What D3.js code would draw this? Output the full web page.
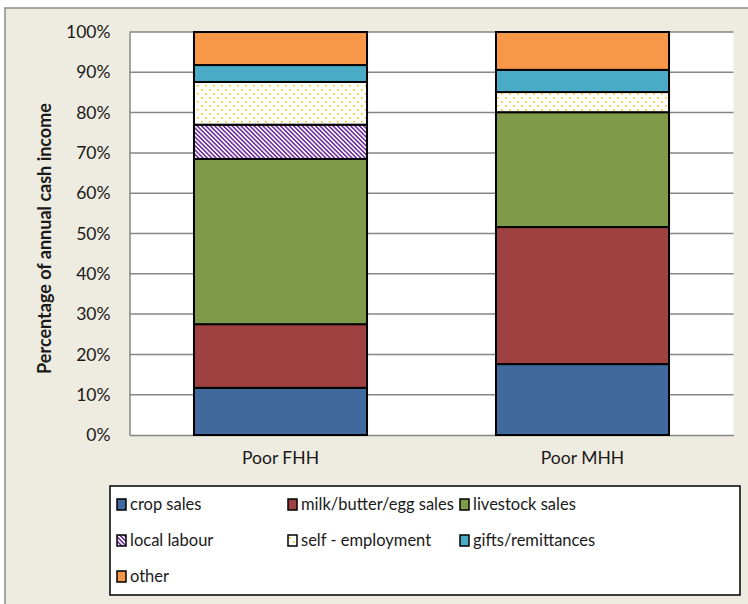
<!DOCTYPE html>
<html>
<head>
<meta charset="utf-8">
<script src="https://cdn.jsdelivr.net/npm/d3@7"></script>
<style>
  html, body { margin: 0; padding: 0; background: #ffffff; }
  svg { display: block; }
  text { font-family: Lato, "Open Sans", sans-serif; fill: #1a1a1a; }
</style>
</head>
<body>
<div id="chart"></div>
<script>
// Share of annual cash income by source, poor female- and male-headed households
const categories = ["Poor FHH", "Poor MHH"];
const seriesNames = ["crop sales", "milk/butter/egg sales", "livestock sales",
  "local labour", "self - employment", "gifts/remittances", "other"];
const cropSales = [11.7, 17.6];
const milkButterEggSales = [15.8, 34.0];
const livestockSales = [41.0, 28.5];
const localLabour = [8.5, 0.0];
const selfEmployment = [10.6, 5.0];
const giftsRemittances = [4.2, 5.5];
const otherIncome = [8.2, 9.4];
const yTicks = [0, 10, 20, 30, 40, 50, 60, 70, 80, 90, 100];

const seriesValues = [cropSales, milkButterEggSales, livestockSales, localLabour,
  selfEmployment, giftsRemittances, otherIncome];

const W = 748, H = 604;
const plot = { left: 129.5, right: 733.5, top: 32, bottom: 435 };
const FONT = "Lato, 'Open Sans', sans-serif";

const svg = d3.select("#chart").append("svg")
  .attr("width", W).attr("height", H);

const defs = svg.append("defs");
// small yellow dots on white
const dots = defs.append("pattern").attr("id", "dots")
  .attr("patternUnits", "userSpaceOnUse").attr("width", 8).attr("height", 8);
dots.append("rect").attr("width", 8).attr("height", 8).attr("fill", "#ffffff");
dots.append("rect").attr("x", 1).attr("y", 1).attr("width", 1.6).attr("height", 1.6).attr("fill", "#FFC000");
dots.append("rect").attr("x", 5).attr("y", 5).attr("width", 1.6).attr("height", 1.6).attr("fill", "#FFC000");
// purple diagonal stripes on white
const stripes = defs.append("pattern").attr("id", "stripes")
  .attr("patternUnits", "userSpaceOnUse").attr("width", 3.1).attr("height", 3.1)
  .attr("patternTransform", "rotate(-45)");
stripes.append("rect").attr("width", 3.1).attr("height", 3.1).attr("fill", "#ffffff");
stripes.append("rect").attr("width", 1.6).attr("height", 3.1).attr("fill", "#7030A0");

const fills = ["#3F6A9B", "#9E4140", "#7F9A48", "url(#stripes)", "url(#dots)", "#4AABC6", "#F79747"];

// chart area background
svg.append("rect").attr("x", 5).attr("y", 8).attr("width", W).attr("height", H)
  .attr("fill", "#EEEBE0").attr("stroke", "#8c8c8c").attr("stroke-width", 1.5);

const x = d3.scaleBand().domain(categories)
  .range([plot.left, plot.right]).paddingInner(0.427).paddingOuter(0.2135);
const y = d3.scaleLinear().domain([0, 100]).range([plot.bottom, plot.top]);

svg.append("rect").attr("x", plot.left).attr("y", plot.top)
  .attr("width", plot.right - plot.left).attr("height", plot.bottom - plot.top)
  .attr("fill", "#ffffff");

// gridlines
svg.append("g").selectAll("line").data(yTicks.filter(d => d > 0)).join("line")
  .attr("x1", plot.left).attr("x2", plot.right)
  .attr("y1", d => y(d)).attr("y2", d => y(d))
  .attr("stroke", "#868686").attr("stroke-width", 1.5);

// y axis
const yAxis = svg.append("g").attr("transform", `translate(${plot.left},0)`)
  .call(d3.axisLeft(y).tickValues(yTicks).tickFormat(d => d + "%").tickSize(0).tickPadding(19));
yAxis.select(".domain").attr("stroke", "#868686").attr("stroke-width", 1.5);
yAxis.selectAll("text").attr("font-size", 17.5).attr("fill", "#1a1a1a")
  .style("font-family", FONT);

// x axis
const xAxis = svg.append("g").attr("transform", `translate(0,${plot.bottom})`)
  .call(d3.axisBottom(x).tickSize(0).tickPadding(17));
xAxis.select(".domain").attr("stroke", "#868686").attr("stroke-width", 1.5);
xAxis.selectAll("text").attr("font-size", 17.5).attr("fill", "#1a1a1a")
  .style("font-family", FONT);

// stacked bars
const rows = categories.map((c, i) => {
  const r = { category: c };
  seriesNames.forEach((s, k) => { r[s] = seriesValues[k][i]; });
  return r;
});
const stacked = d3.stack().keys(seriesNames)(rows);
svg.append("g").selectAll("g").data(stacked).join("g")
  .attr("fill", (d, k) => fills[k])
  .selectAll("rect").data(d => d.filter(p => p[1] - p[0] > 0)).join("rect")
  .attr("x", d => x(d.data.category))
  .attr("width", x.bandwidth())
  .attr("y", d => y(d[1]))
  .attr("height", d => y(d[0]) - y(d[1]))
  .attr("stroke", "#000").attr("stroke-width", 2);

// y axis title
svg.append("text")
  .attr("transform", `translate(51,${(plot.top + plot.bottom) / 2 + 5}) rotate(-90)`)
  .attr("text-anchor", "middle")
  .attr("font-size", 18).attr("font-weight", "bold")
  .text("Percentage of annual cash income");

// legend
const legend = svg.append("g");
legend.append("rect").attr("x", 110).attr("y", 486).attr("width", 630).attr("height", 109)
  .attr("fill", "#fff").attr("stroke", "#000").attr("stroke-width", 1.5);
const colX = [117, 288, 460];
const rowY = [504, 540, 576];
seriesNames.forEach((s, k) => {
  const cx = colX[k % 3], cy = rowY[Math.floor(k / 3)];
  legend.append("rect").attr("x", cx).attr("y", cy - 5).attr("width", 9).attr("height", 11)
    .attr("fill", fills[k]).attr("stroke", "#000").attr("stroke-width", 1.5);
  legend.append("text").attr("x", cx + 13).attr("y", cy).attr("dy", "0.35em")
    .attr("font-size", 16.5).text(s);
});
</script>
</body>
</html>
